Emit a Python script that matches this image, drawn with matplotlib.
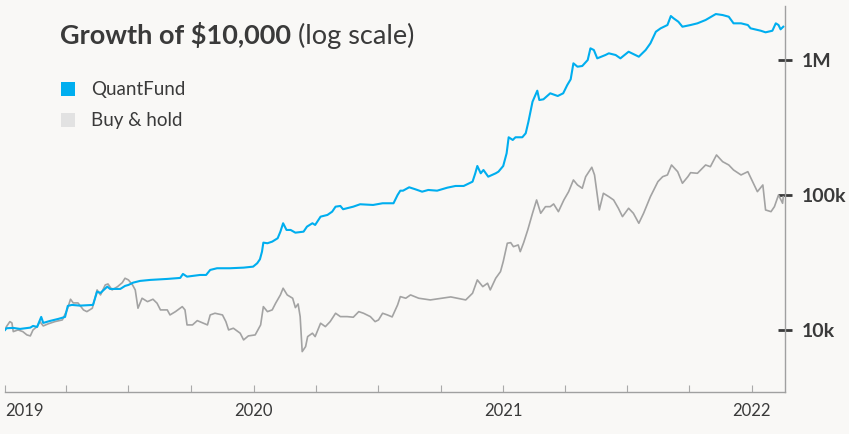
import matplotlib
matplotlib.use("Agg")
import matplotlib.pyplot as plt
import matplotlib.dates as mdates
from matplotlib.patches import Patch
import numpy as np
import pandas as pd

plt.rcParams['font.family'] = ['Lato', 'DejaVu Sans']

start = pd.Timestamp('2019-01-01')
end = pd.Timestamp('2022-02-19')

# QuantFund: days since start, portfolio value ($)
qf_days = [0, 2, 12, 22, 37, 41, 47, 53, 56, 66, 78, 88, 92, 98, 110, 129, 135, 140,
           150, 154, 169, 176, 181, 188, 198, 213, 238, 257, 261, 267, 286, 295, 301,
           311, 330, 350, 364, 370, 374, 377, 379, 385, 392, 400, 404, 408, 413, 419,
           426, 438, 443, 451, 455, 463, 473, 480, 485, 492, 496, 511, 521, 540, 554,
           570, 576, 580, 584, 593, 602, 612, 621, 634, 649, 661, 673, 686, 690, 693,
           698, 702, 709, 720, 724, 731, 736, 739, 745, 749, 759, 764, 768, 774, 781,
           784, 790, 800, 811, 819, 825, 830, 834, 840, 847, 855, 859, 864, 869, 881,
           886, 896, 903, 915, 930, 940, 947, 955, 962, 972, 977, 981, 988, 994, 1006,
           1016, 1028, 1043, 1053, 1062, 1069, 1080, 1090, 1094, 1109, 1116, 1126,
           1131, 1135, 1138, 1142]
qf_values = [10000, 10294, 10347, 10172, 10399, 10705, 10524, 12484, 11270, 11660,
             12065, 12484, 15060, 15320, 15136, 15320, 19216, 18795, 20925, 20120,
             20120, 21180, 21544, 22410, 23070, 23470, 23870, 24280, 25990, 24820,
             25540, 25540, 27830, 28640, 28640, 28940, 29440, 31200, 33400, 38020,
             44340, 43880, 45100, 47780, 53470, 61720, 55050, 55050, 52560, 53470,
             58250, 61720, 59950, 69080, 71110, 75220, 81920, 82890, 78400, 81920,
             85340, 84330, 86800, 86800, 100000, 107600, 107600, 114000, 110200,
             105780, 108900, 107600, 113260, 116600, 116600, 125500, 144750, 163970,
             144750, 153170, 136620, 144750, 148800, 163970, 203700, 267600, 255600,
             267600, 267600, 286400, 349200, 491000, 592500, 505300, 511500, 566700,
             541200, 566700, 652700, 719500, 945400, 892200, 903000, 1000000, 1221000,
             1186000, 1029000, 1089000, 1121000, 1089000, 1029000, 1152000, 1058000,
             1186000, 1329000, 1620000, 1717000, 1817000, 2118000, 2037000, 1922000,
             1765000, 1817000, 1870000, 1979000, 2191000, 2154000, 2093000, 1870000,
             1870000, 1817000, 1717000, 1648000, 1604000, 1648000, 1870000, 1817000,
             1688000, 1765000]

# Buy & hold: days since start, portfolio value ($)
bh_days = [0, 2, 7, 10, 12, 19, 26, 32, 37, 41, 47, 51, 56, 63, 73, 84, 91, 96, 100,
           107, 115, 120, 128, 135, 140, 147, 151, 157, 165, 172, 176, 181, 187, 191,
           195, 201, 209, 217, 223, 228, 238, 242, 250, 260, 264, 267, 275, 282, 291,
           297, 301, 308, 319, 324, 328, 335, 345, 350, 357, 367, 375, 379, 385, 392,
           397, 404, 408, 414, 422, 426, 430, 433, 436, 441, 444, 451, 455, 463, 470,
           477, 485, 492, 502, 511, 519, 526, 536, 543, 548, 554, 561, 568, 576, 580,
           588, 595, 607, 624, 654, 676, 686, 693, 701, 708, 712, 720, 727, 731, 737,
           742, 746, 753, 756, 761, 767, 774, 780, 786, 793, 800, 805, 812, 820, 827,
           834, 840, 847, 852, 861, 865, 870, 872, 878, 886, 893, 900, 906, 915, 922,
           930, 937, 947, 958, 965, 972, 978, 987, 994, 1002, 1006, 1016, 1028, 1035,
           1044, 1053, 1062, 1069, 1080, 1090, 1097, 1104, 1112, 1116, 1124, 1129,
           1135, 1141, 1142]
bh_values = [10000, 10578, 11520, 11270, 9714, 10000, 9714, 9183, 9028, 10000, 10578,
             11520, 10705, 11080, 11520, 11860, 14070, 16880, 15850, 15850, 14070,
             13660, 14480, 19790, 18170, 21544, 21910, 19790, 20925, 22410, 24150,
             23470, 21544, 19790, 14480, 17170, 16200, 16880, 15770, 14070, 14070,
             12915, 13660, 14880, 14070, 10890, 10890, 11720, 11210, 10890, 12915,
             13290, 12915, 11520, 10000, 10294, 9455, 8433, 9028, 9183, 10890, 14880,
             13660, 14070, 15770, 18170, 20370, 18170, 17170, 14630, 15580, 12550,
             6908, 7522, 8923, 9455, 8923, 11210, 10578, 11520, 13290, 12550, 12550,
             12420, 13660, 13290, 12550, 11520, 11860, 13290, 12915, 12484, 15320,
             17650, 17170, 18170, 17170, 16680, 17560, 16680, 18700, 23470, 20925,
             22180, 19790, 24150, 27040, 32060, 43880, 44340, 41400, 42620, 38020,
             44340, 55050, 73180, 91830, 73180, 81920, 81920, 85770, 75220, 91830,
             105780, 129150, 118600, 112100, 136620, 160400, 140700, 91830, 77430,
             102940, 97140, 91830, 79700, 69080, 79700, 73180, 61720, 73180, 97140,
             125500, 136620, 140700, 166800, 148800, 122100, 136620, 146300, 144750,
             166800, 162000, 197900, 176500, 166800, 153170, 140700, 148800, 125500,
             105780, 118600, 77430, 75220, 81920, 100000, 86800, 97140]

qf_dates = start + pd.to_timedelta(qf_days, unit='D')
bh_dates = start + pd.to_timedelta(bh_days, unit='D')

bg = '#f9f8f6'
blue = '#00aeef'
grey_line = '#a3a3a3'
text_dark = '#3a3a3a'

fig = plt.figure(figsize=(8.49, 4.34), dpi=100, facecolor=bg)
ax = fig.add_axes([0.006, 0.097, 0.919, 0.889])
ax.set_facecolor(bg)

ax.plot(bh_dates, bh_values, color=grey_line, lw=1.2, zorder=2)
ax.plot(qf_dates, qf_values, color=blue, lw=1.5, zorder=3)

ax.set_yscale('log')
ax.set_ylim(3473, 2.51e6)
ax.set_xlim(start, end)

# right-side y axis
ax.yaxis.tick_right()
ax.set_yticks([1e4, 1e5, 1e6])
ax.set_yticklabels(['10k', '100k', '1M'])
ax.yaxis.set_minor_locator(matplotlib.ticker.NullLocator())
ax.tick_params(axis='y', which='major', direction='inout', length=10, width=2,
               color='#3a3a3a', pad=7, labelsize=14, labelcolor=text_dark)
for lab in ax.get_yticklabels():
    lab.set_fontweight('bold')

# x axis
ax.xaxis.set_major_locator(mdates.YearLocator())
ax.xaxis.set_major_formatter(mdates.DateFormatter('%Y'))
ax.xaxis.set_minor_locator(mdates.MonthLocator(bymonth=[4, 7, 10]))
ax.tick_params(axis='x', which='both', direction='in', length=5, width=0.8,
               color='#aaaaaa', labelsize=12, labelcolor=text_dark, pad=8)
ax.get_xticklabels()[0].set_ha('left')

for s in ['top', 'left']:
    ax.spines[s].set_visible(False)
for s in ['bottom', 'right']:
    ax.spines[s].set_color('#a0a0a0')
    ax.spines[s].set_linewidth(1)

# title: bold part followed by regular part
t1 = fig.text(0.0707, 0.899, 'Growth of $10,000', fontsize=19.5, fontweight='bold',
              color=text_dark, ha='left', va='baseline')
fig.canvas.draw()
bb = t1.get_window_extent()
fig.text(bb.x1 / fig.bbox.width + 0.008, 0.899, '(log scale)', fontsize=19.5,
         color=text_dark, ha='left', va='baseline')

handles = [Patch(facecolor=blue, edgecolor='none', label='QuantFund'),
           Patch(facecolor='#e2e2e2', edgecolor='none', label='Buy & hold')]
leg = fig.legend(handles=handles, loc='upper left', bbox_to_anchor=(0.063, 0.83),
                 frameon=False, fontsize=13.5, handlelength=0.75, handleheight=0.75,
                 handletextpad=0.85, labelspacing=0.75, borderaxespad=0)
for t in leg.get_texts():
    t.set_color(text_dark)

fig.savefig('out.png', dpi=100, facecolor=bg)
